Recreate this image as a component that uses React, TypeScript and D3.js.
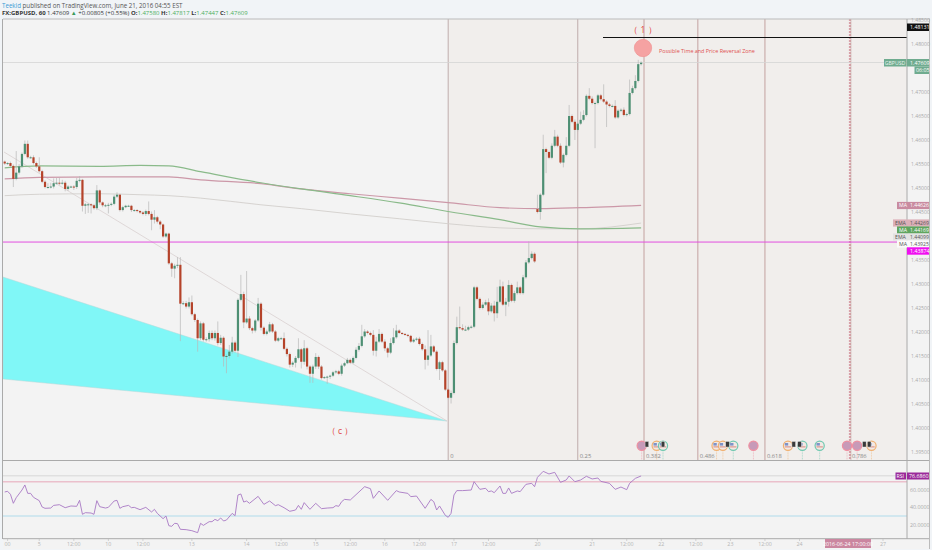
import React from "react";
import * as d3 from "d3";

// Prices are written in 1/10000 units (14551 = 1.4551)
const closes = [
14551,14552,14546,14519,14532,14545,14571,14592,14564,14564,
14552,14545,14535,14513,14502,14502,14503,14510,14511,14510,
14511,14498,14503,14503,14502,14515,14517,14463,14466,14466,
14464,14458,14495,14470,14464,14464,14465,14467,14482,14486,
14454,14460,14463,14463,14454,14454,14452,14449,14446,14452,
14446,14434,14439,14430,14424,14399,14405,14343,14332,14338,
14340,14259,14260,14253,14262,14237,14225,14187,14218,14184,
14185,14198,14187,14198,14177,14188,14149,14150,14159,14178,
14161,14267,14279,14220,14228,14208,14203,14224,14259,14209,
14196,14201,14216,14201,14182,14187,14187,14165,14154,14132,
14136,14146,14164,14138,14166,14128,14113,14128,14148,14128,
14104,14106,14107,14109,14116,14118,14113,14130,14135,14142,
14136,14146,14163,14171,14191,14201,14198,14194,14161,14180,
14196,14180,14166,14157,14177,14189,14203,14198,14196,14194,
14192,14180,14184,14186,14175,14164,14142,14151,14170,14159,
14123,14137,14120,14080,14063,14073,14177,14210,14208,14205,
14205,14210,14211,14293,14269,14250,14257,14262,14243,14255,
14239,14263,14295,14257,14263,14298,14265,14281,14293,14281,
14314,14345,14354,14363,14347,14450,14486,14581,14575,14563,
14588,14607,14588,14553,14569,14588,14650,14638,14621,14634,
14642,14652,14692,14686,14677,14677,14693,14685,14680,14674,
14671,14671,14647,14661,14663,14652,14654,14698,14708,14723,
14758,14761];
const firstOpen = 14555;
const gapOpenBar = 185;
const gapOpen = 14456;
const upperWicks = [
2,2,3,3,45,5,3,7,7,3, 4,3,19,3,3,8,8,10,10,10, 6,4,3,2,3,6,8,2,3,3, 2,3,11,2,2,3,4,3,4,5,
2,3,2,2,2,2,2,2,3,3, 20,5,15,3,3,2,2,2,3,4, 16,16,4,5,10,14,3,3,4,3, 4,5,5,5,24,6,3,3,14,12,
4,3,40,5,99,5,3,3,12,3, 3,4,5,3,3,3,3,12,3,3, 3,4,23,3,17,3,3,4,8,3, 3,2,2,2,3,3,3,4,3,4,
3,3,5,6,24,5,3,3,10,10, 10,3,5,3,10,19,12,3,2,2, 2,2,3,3,4,3,8,53,24,3, 3,3,3,3,3,5,5,22,43,8,
8,3,3,3,3,3,5,5,8,5, 10,31,14,10,8,10,3,5,12,3, 5,5,35,5,3,30,3,30,3,3, 5,14,4,5,3,18,23,3,5,3,
17,10,3,16,5,3,3,3,31,3, 3,3,12,3,3,5,3,28,5,12, 9,3];
const lowerWicks = [
3,3,3,17,3,4,3,3,3,3, 3,3,3,3,3,3,3,4,3,4, 3,5,4,3,6,4,3,12,17,18, 17,3,4,5,4,4,17,3,3,3,
3,3,2,2,4,3,3,3,3,4, 3,22,8,4,10,3,3,3,17,20, 5,78,3,4,4,3,4,28,4,4, 4,5,4,5,5,4,21,35,5,4,
4,13,3,12,3,4,6,4,3,6, 3,3,3,3,3,3,3,3,5,6, 5,10,3,14,6,6,19,19,5,5, 3,2,14,5,3,3,3,4,3,2,
3,3,3,4,3,3,3,3,10,12, 3,3,6,10,3,3,3,2,2,2, 3,3,3,3,3,3,20,12,3,3, 3,23,3,3,3,12,3,3,3,3,
3,3,3,3,3,3,3,3,8,3, 17,10,3,3,24,10,3,4,3,3, 3,3,3,3,3,3,16,3,44,3, 3,3,3,3,10,3,3,3,21,3,
3,3,3,3,3,94,3,3,3,47, 3,3,3,3,3,3,3,3,3,3, 3,3];

const maBars = [0,12,33,47,57,68,89,103,120,137,155,172,186,200,221];
const greenMA = [14542,14546,14545,14547,14546,14534,14511,14498,14484,14469,14450,14434,14419,14415,14417];
const pinkMA = [14519,14522,14523,14523,14523,14517,14509,14498,14488,14479,14469,14459,14457,14459,14464];
const greyMA = [14484,14487,14488,14486,14484,14479,14465,14457,14446,14436,14425,14417,14415,14415,14427];

const rsiBars = [0,1,2,3,4,6,7,8,9,10,12,13,14,16,17,19,21,23,25,26,27,28,30,31,32,33,35,36,38,39,40,41,43,44,45,47,49,51,52,53,55,56,57,58,59,60,61,63,65,67,68,69,71,72,73,74,75,76,77,79,80,81,82,83,84,85,88,90,92,94,95,97,99,101,102,103,104,106,108,110,112,114,115,116,117,118,120,125,127,128,130,133,136,137,140,141,143,146,148,149,150,151,153,154,155,156,157,159,162,163,165,167,168,169,170,172,173,174,175,176,178,179,181,183,184,185,187,189,191,193,195,196,198,200,202,204,206,207,210,212,214,216,217,219,221];
const rsiValues = [58,58.8,55.3,44.8,51.4,60.3,66.2,56.4,56.4,51.8,47.9,40.5,39,39.3,42.4,43.2,39.7,41.7,41.3,48.3,32,33.9,33.5,32,47.9,40.9,39.3,40.1,47.5,48.3,39,40.9,42.4,39.7,40.1,37.4,40.1,34.7,37.8,33.1,26.9,30,18.7,18,21.5,21.1,14.5,14.1,12.9,10.6,21.5,19.1,23.4,23.4,26.1,24.6,27.7,24.2,25.3,33.1,30.4,54.5,55.7,46.3,47.5,44.8,52.9,43.6,47.5,42.1,43.2,39.7,35.5,37,42.4,37.8,45.6,37.8,44.8,38.6,39.3,39.7,42.1,41.3,46.7,49.4,48.7,64.2,61.9,50.6,59.2,48.3,59.6,58,56.4,52.6,53.3,39,49.4,46.7,37,41.7,30.8,28.5,33.1,54.5,59.6,59.6,60.3,70,61.1,62.3,58.4,59.2,57.2,65,56.4,56.4,62.7,56.4,59.2,58.4,66.9,68.1,64.2,75.1,82.1,79,80.9,69.3,72,76.7,70,72,76.3,73.2,74.3,70.4,68.1,61.1,63.8,60.7,68.1,73.9,76.7];

const priceTicks = [1.485,1.48,1.47,1.465,1.46,1.455,1.45,1.445,1.435,1.43,1.425,1.42,1.415,1.41,1.405,1.40,1.395];
const rsiTicks = [60,40,20];
const timeBars = [1,12,24,36,48,65,84,96,108,120,132,144,156,168,185,204,216,228,240,252,264,276,305];
const timeLabels = ["00","5","12:00","10","12:00","13","14","12:00","15","12:00","16","12:00","17","12:00","20","21","12:00","22","12:00","23","12:00","24","27"];
const fibBars = [154,199,222,240.7,264];
const fibLabels = ["0","0.25","0.382","0.486","0.618"];
const fibLastBar = 293.5;
const fibLastLabel = "0.786";
const eventBars = [221.2,226.4,228.6,247.2,249.4,253,260,272,277,283,292.5,296,301];
const eventColors = ["#ef8fa0","#f0b070","#70c8b0","#f0b070","#f0b070","#70c8b0","#ef8fa0","#f0b070","#70c8b0","#70c8b0","#ef8fa0","#ef8fa0","#f0b070"];
const noteBars = [223,228.6,251,274,276,298.5,300.2];
const priceTags = [
  { label: "MA", value: "1.44626", fill: "#c98ba0", text: "#fff", left: 897, y: 205.5 },
  { label: "EMA", value: "1.44269", fill: "#dcb0b8", text: "#555", left: 893, y: 223 },
  { label: "MA", value: "1.44169", fill: "#5fa55f", text: "#fff", left: 897, y: 230 },
  { label: "EMA", value: "1.44099", fill: "#e2e2e2", text: "#555", left: 893, y: 237 },
  { label: "MA", value: "1.43925", fill: "#fafafa", text: "#555", left: 897, y: 244 },
];

const FONT = "'Open Sans', sans-serif";
const bar = d3.scaleLinear().domain([0, 222]).range([4.7, 644]);
const price = d3.scaleLinear().domain([14800, 14000]).range([44, 428]);
const rsi = d3.scaleLinear().domain([70, 20]).range([481.7, 524.6]);

const UP = "#4d8f73";
const DOWN = "#b5432a";

const maLine = d3.line<number>().x((_, i) => bar(maBars[i])).y((d) => price(d)).curve(d3.curveMonotoneX);
const rsiLine = d3.line<number>().x((_, i) => bar(rsiBars[i])).y((d) => rsi(d));

export default function App() {
  const right = 907;
  const fibX = [...fibBars, fibLastBar].map((b) => bar(b));
  return (
    <svg width={932} height={550} style={{ position: "absolute", left: 0, top: 0, fontFamily: FONT }}>
      <rect width={932} height={550} fill="#f1f4f7" />
      <rect x={3} y={19} width={927} height={530} fill="#f3f3f3" />
      <rect x={bar(154)} y={19} width={right - bar(154)} height={441} fill="#f1eeec" />

      <text x={2} y={8} fontSize={6.2} fill="#555">
        <tspan fill="#3b9bd6">Teekid</tspan> published on TradingView.com, June 21, 2016 04:55 EST
      </text>
      <text x={2} y={15} fontSize={6} fill="#333">
        <tspan fontWeight={700}>FX:GBPUSD, 60</tspan> 1.47609 <tspan fill="#3a9a5a">▲</tspan> +0.00805 (+0.55%) <tspan fontWeight={700}>O:</tspan>
        <tspan fill="#4caf60">1.47580</tspan> <tspan fontWeight={700}>H:</tspan><tspan fill="#4caf60">1.47817</tspan> <tspan fontWeight={700}>L:</tspan>
        <tspan fill="#4caf60">1.47447</tspan> <tspan fontWeight={700}>C:</tspan><tspan fill="#4caf60">1.47609</tspan>
      </text>

      {/* wedge and trend line */}
      <path d={`M${bar(0) - 1.7},277L${bar(154) - 1.5},421L${bar(0) - 1.7},379Z`} fill="#80f7f7" stroke="#b8d8d8" strokeWidth={0.5} />
      <line x1={4} y1={152} x2={447} y2={421} stroke="#d6cccc" strokeWidth={0.7} />

      {/* fib time zones */}
      {fibX.slice(0, 5).map((x, i) => (
        <g key={i}>
          <line x1={x} x2={x} y1={19} y2={460} stroke={i < 2 ? "#b39a9a" : "#b98e8e"} strokeWidth={0.8} />
          <text x={x + 2} y={458} fontSize={5.8} fill="#888">{fibLabels[i]}</text>
        </g>
      ))}
      <line x1={fibX[5]} x2={fibX[5]} y1={19} y2={460} stroke="#d9a0a8" strokeWidth={2} strokeDasharray="2 1" />
      <line x1={fibX[5] + 1} x2={fibX[5] + 1} y1={19} y2={460} stroke="#b98e8e" strokeWidth={0.5} />
      <text x={fibX[5] + 2} y={458} fontSize={5.8} fill="#888">{fibLastLabel}</text>

      {/* levels */}
      <line x1={3} x2={right} y1={62.5} y2={62.5} stroke="#d4d4d4" strokeWidth={0.8} />
      <line x1={3} x2={right} y1={price(14387.4)} y2={price(14387.4)} stroke="#e24fe0" strokeWidth={1} />
      <line x1={603} x2={right} y1={37.5} y2={37.5} stroke="#111" strokeWidth={1.1} />

      {/* moving averages */}
      <path d={maLine(greyMA) ?? ""} fill="none" stroke="#d2cfcc" strokeWidth={0.9} />
      <path d={maLine(pinkMA) ?? ""} fill="none" stroke="#cc98a8" strokeWidth={1.2} />
      <path d={maLine(greenMA) ?? ""} fill="none" stroke="#8aba8a" strokeWidth={1.2} />

      {/* candles */}
      {closes.map((c, i) => {
        const o = i === 0 ? firstOpen : i === gapOpenBar ? gapOpen : closes[i - 1];
        const x = bar(i);
        const top = Math.min(price(o), price(c));
        const h = Math.max(Math.abs(price(o) - price(c)), 1);
        const hi = Math.max(o, c) + upperWicks[i];
        const lo = Math.min(o, c) - lowerWicks[i];
        return (
          <g key={i}>
            <line x1={x} x2={x} y1={price(hi)} y2={price(lo)} stroke="#b8b8b8" strokeWidth={0.7} />
            <rect x={x - 1.1} y={top} width={2.2} height={h} fill={c >= o ? UP : DOWN} />
          </g>
        );
      })}

      {/* annotations */}
      <circle cx={643} cy={48} r={8.7} fill="#f5a2a2" stroke="#ee8f8f" strokeWidth={0.6} />
      <text x={659} y={52.5} fontSize={5.4} fill="#e05050">Possible Time and Price Reversal Zone</text>
      <text x={643} y={33} fontSize={8.5} fill="#e04040" textAnchor="middle">（ 1 ）</text>
      <text x={340} y={434} fontSize={8.5} fill="#e04040" textAnchor="middle">（ c ）</text>

      {/* calendar events */}
      {eventBars.map((b, i) => {
        const pink = eventColors[i] === "#ef8fa0";
        return (
          <g key={i}>
            <line x1={bar(b)} x2={bar(b)} y1={450} y2={460} stroke={eventColors[i]} strokeOpacity={0.6} strokeWidth={0.8} strokeDasharray="1 0.6" />
            <circle cx={bar(b)} cy={445.7} r={4.6} fill={pink ? "#c79ab8" : "#f2e9e4"} stroke={eventColors[i]} strokeWidth={1.2} />
            {!pink && <rect x={bar(b) - 3.2} y={443} width={3.4} height={2.6} fill="#7f93c8" />}
            {!pink && <rect x={bar(b) - 3.2} y={446.4} width={6.4} height={1} fill="#d88a80" />}
          </g>
        );
      })}
      {noteBars.map((b) => (
        <rect key={b} x={bar(b) - 1.8} y={441.5} width={3.6} height={5.5} fill="#3a3a3a" stroke="#e8e8e8" strokeWidth={0.4} />
      ))}

      {/* RSI pane */}
      <line x1={3} x2={right} y1={475.8} y2={475.8} stroke="#cfcfcf" strokeWidth={0.8} />
      <line x1={3} x2={right} y1={rsi(70)} y2={rsi(70)} stroke="#ebc0cc" strokeWidth={1.4} />
      <line x1={3} x2={right} y1={rsi(30)} y2={rsi(30)} stroke="#b0dcec" strokeWidth={1.2} />
      <path d={rsiLine(rsiValues) ?? ""} fill="none" stroke="#a878c4" strokeWidth={0.9} />

      {/* frames */}
      <line x1={2.5} x2={2.5} y1={19} y2={539} stroke="#aaa" strokeWidth={1} />
      <line x1={3} x2={930} y1={19} y2={19} stroke="#bbb" strokeWidth={1} />
      <line x1={3} x2={930} y1={460.5} y2={460.5} stroke="#aaa" strokeWidth={1} />
      <line x1={3} x2={930} y1={538.7} y2={538.7} stroke="#aaa" strokeWidth={1} />
      <line x1={right} x2={right} y1={19} y2={539} stroke="#aaa" strokeWidth={1} />
      <line x1={929.5} x2={929.5} y1={19} y2={549} stroke="#bbb" strokeWidth={1} />

      {/* price axis */}
      {priceTicks.map((t) => (
        <text key={t} x={911} y={price(t * 10000) + 2} fontSize={5.1} fill="#aaa">{t.toFixed(5)}</text>
      ))}
      <rect x={907} y={23.5} width={22} height={7.5} fill="#111" />
      <text x={910} y={29.2} fontSize={5.3} fill="#fff">1.48131</text>
      <rect x={884} y={59} width={22.5} height={7.5} fill="#6fab8f" />
      <text x={895} y={64.8} fontSize={5.2} fill="#e8f4ee" textAnchor="middle">GBPUSD</text>
      <rect x={907} y={59} width={22} height={7.5} fill="#6fab8f" />
      <text x={910} y={64.8} fontSize={5.3} fill="#fff">1.47609</text>
      <rect x={914.5} y={66.5} width={14.5} height={7.5} fill="#6fab8f" />
      <text x={916} y={72.3} fontSize={5.3} fill="#fff">06:05</text>
      {priceTags.map((t) => (
        <g key={t.y}>
          <rect x={t.left} y={t.y - 3.6} width={929 - t.left} height={7.2} fill={t.fill} />
          <text x={t.left + 2} y={t.y + 1.9} fontSize={5.2} fill={t.text}>{t.label}</text>
          <text x={910} y={t.y + 1.7} fontSize={5.1} fill={t.text}>{t.value}</text>
        </g>
      ))}
      <rect x={907} y={247.3} width={22} height={7.4} fill="#f010f0" />
      <text x={910} y={253} fontSize={5.3} fill="#fff">1.43874</text>

      {/* RSI axis */}
      {rsiTicks.map((t) => (
        <text key={t} x={910} y={rsi(t) + 2} fontSize={5.3} fill="#aaa">{t.toFixed(4)}</text>
      ))}
      <rect x={895.5} y={472.5} width={10.5} height={7} fill="#9a2a9a" />
      <text x={896.5} y={478} fontSize={5.2} fill="#fff">RSI</text>
      <rect x={907} y={472.5} width={22} height={7} fill="#9a2a9a" />
      <text x={909} y={478} fontSize={5.3} fill="#fff">76.6860</text>

      {/* time axis */}
      {timeBars.map((b, i) => (
        <g key={i}>
          <line x1={bar(b)} x2={bar(b)} y1={539} y2={541} stroke="#bbb" strokeWidth={0.6} />
          <text x={bar(b)} y={545.5} fontSize={5.3} fill="#b5b5b5" textAnchor="middle">{timeLabels[i]}</text>
        </g>
      ))}
      <rect x={825} y={539} width={46} height={9} fill="#cb86a0" />
      <text x={848} y={545.5} fontSize={5.3} fill="#fff" textAnchor="middle">2016-06-24 17:00:00</text>
    </svg>
  );
}
